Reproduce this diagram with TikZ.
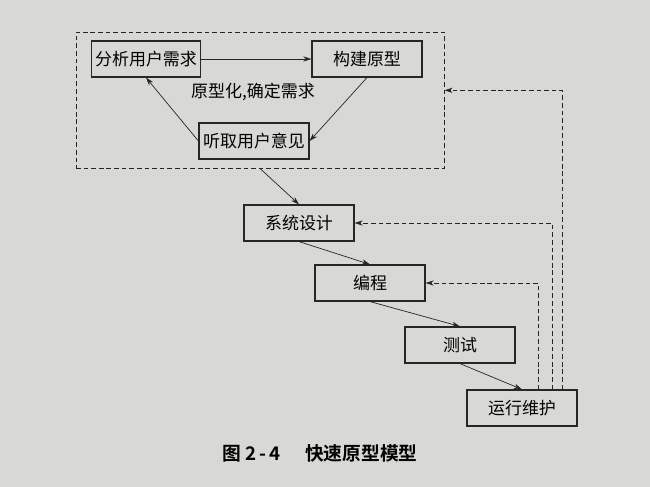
\documentclass[tikz,border=0pt]{standalone}
\usepackage{fontspec}
\usepackage{tikz}
\usetikzlibrary{arrows.meta}
\newfontfamily\cjk{Noto Sans CJK SC}
\newfontfamily\cjkbold{Noto Sans CJK SC Bold}
\definecolor{paper}{RGB}{216,216,213}
\definecolor{ink}{RGB}{38,38,38}
\tikzset{
    phasebox/.style={draw=ink, line width=1pt, minimum width=3.3cm, minimum height=1.08cm,
        font=\cjk\fontsize{14.5}{16}\selectfont},
    flow/.style={draw=ink, line width=0.6pt, -{Stealth[length=7pt,width=4.5pt]}},
    back/.style={flow, dash pattern=on 4pt off 2.5pt},
}

\begin{document}
\begin{tikzpicture}[x=0.03cm, y=-0.03cm]
    \fill[paper] (0,0) rectangle (650,487);
    % prototype loop
    \node[draw=ink, line width=0.8pt, dash pattern=on 4pt off 2.5pt,
        minimum width=11.04cm, minimum height=4.08cm] (loop) at (260,100) {};
    \node[phasebox, minimum width=3.1cm] (fenxi) at (146,59) {分析用户需求};
    \node[phasebox] (goujian) at (367,59) {构建原型};
    \node[phasebox] (tingqu) at (254,141) {听取用户意见};
    \node[font=\cjk\fontsize{14.5}{16}\selectfont] (loopname) at (253,92) {原型化,确定需求};
    \draw[flow] (fenxi) -- (goujian);
    \draw[flow] (goujian.south) -- (tingqu.east);
    \draw[flow] (tingqu.west) -- (fenxi.south);
    % development steps
    \foreach \name/\x/\y/\txt in {xitong/299/223/系统设计, biancheng/370/283/编程,
        ceshi/460/345/测试, yunxing/522/408/运行维护}{%
        \node[phasebox] (\name) at (\x,\y) {\txt};
    }%
    \foreach \a/\b in {loop/xitong, xitong/biancheng, biancheng/ceshi, ceshi/yunxing}{%
        \draw[flow] (\a.south) -- (\b.north);
    }%
    % feedback
    \foreach \s/\t in {0.48/biancheng.east, 0.9/xitong.east, 1.2/loop.3}{%
        \draw[back] ([xshift=\s cm]yunxing.north) |- (\t);
    }%
    \node[font=\cjkbold\fontsize{16}{18}\selectfont] (caption) at (320,453) {图 2\,-\,4\hspace{1.3em}快速原型模型};
\end{tikzpicture}
\end{document}
